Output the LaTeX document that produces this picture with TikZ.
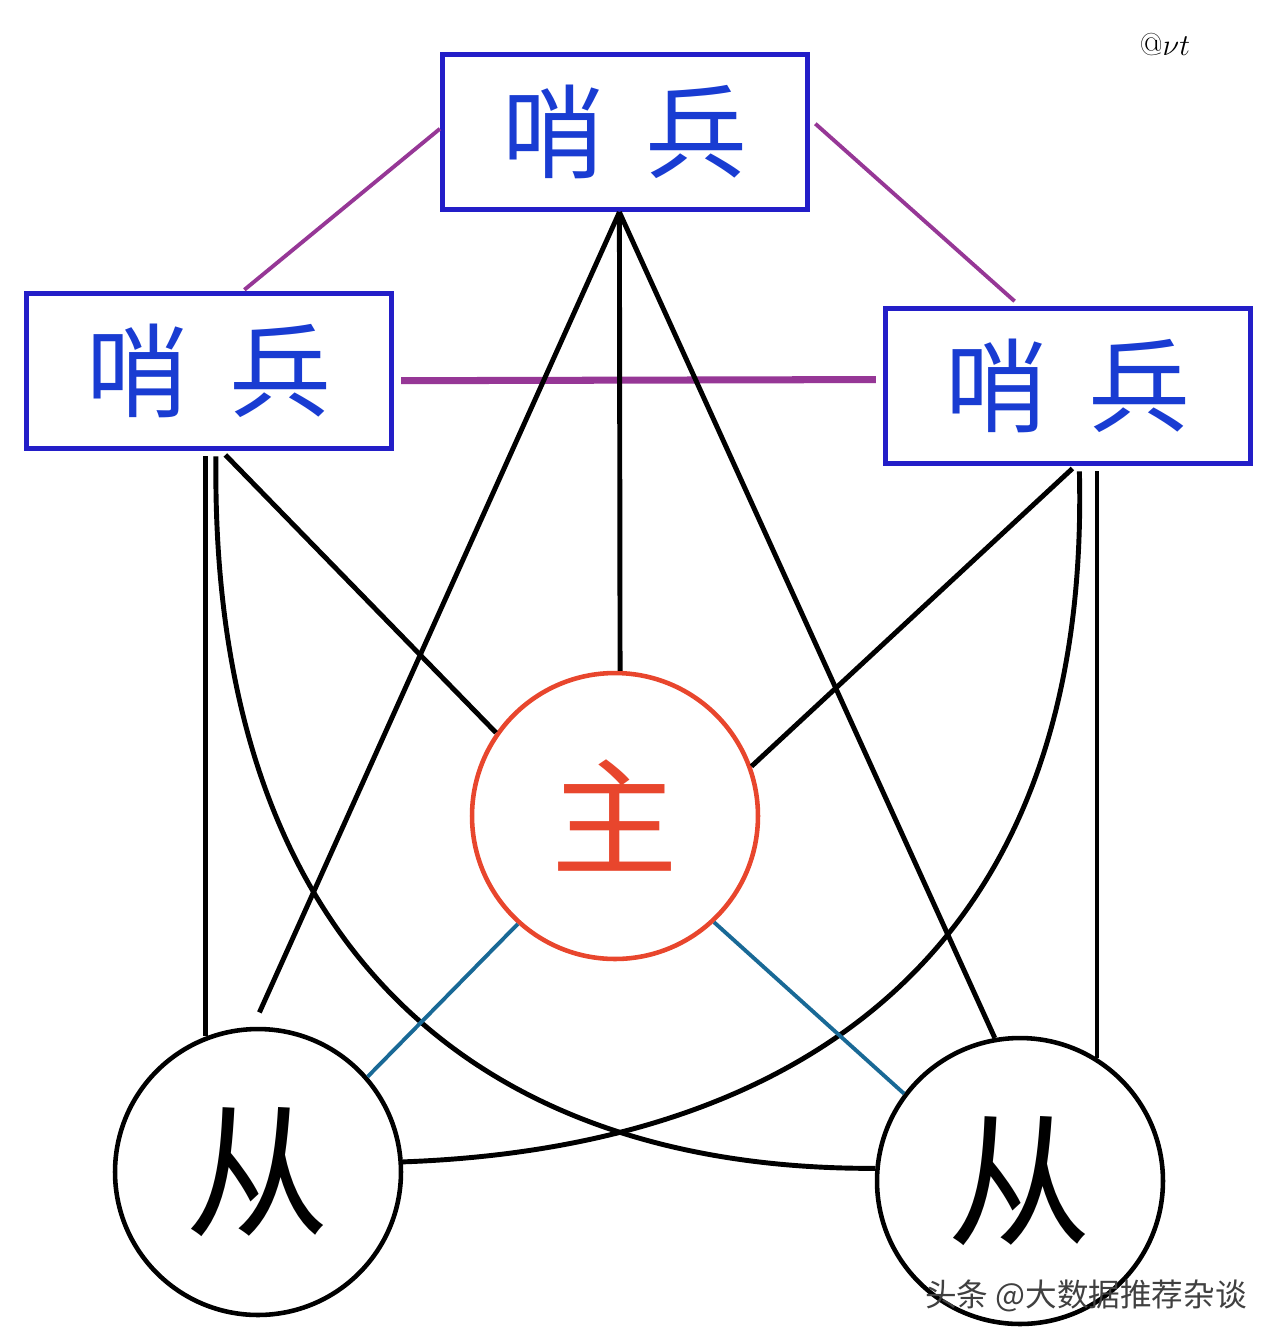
\documentclass[tikz,border=0pt]{standalone}
\usepackage{fontspec}
\newfontfamily\cjk{Noto Sans CJK SC}
\definecolor{boxblue}{RGB}{35,30,200}
\definecolor{charblue}{RGB}{25,60,210}
\definecolor{linkpurple}{RGB}{150,55,150}
\definecolor{mainred}{RGB}{232,70,45}
\definecolor{linkteal}{RGB}{25,105,150}
\begin{document}
\begin{tikzpicture}[x=0.02cm, y=-0.02cm,
    sentry/.style={draw=boxblue, line width=3pt, minimum width=7.3cm, minimum height=3.1cm,
      inner sep=0pt, text=charblue, font=\cjk\fontsize{58}{60}\selectfont},
    master/.style={draw=mainred, circle, line width=2.6pt, minimum size=5.72cm, inner sep=0pt,
      text=mainred, font=\cjk\fontsize{72}{72}\selectfont},
    slave/.style={draw=black, circle, line width=2.6pt, minimum size=5.72cm, inner sep=0pt,
      font=\cjk\fontsize{82}{82}\selectfont},
    wire/.style={draw=black, line width=2.8pt},
    gossip/.style={draw=linkpurple, line width=2.2pt},
    repl/.style={draw=linkteal, line width=2.2pt}]
        \fill[white] (0,0) rectangle (1280,1340);
        \useasboundingbox (0,0) rectangle (1280,1340);

        \node[sentry] (sTop) at (625,132) {\raisebox{-0.08em}{哨\hspace{0.4em}兵}};
        \node[sentry] (sLeft) at (209,371) {哨\hspace{0.4em}兵};
        \node[sentry] (sRight) at (1068,386) {哨\hspace{0.4em}兵};
        \node[master] (main) at (615,816) {\raisebox{-0.12em}{主}};
        \node[slave] (slaveL) at (258,1172) {从};
        \node[slave] (slaveR) at (1020,1181) {从};

        % sentinels talk to each other
        \path[gossip, shorten >=1pt] (sTop.179) edge (sLeft.67);
        \path[gossip, shorten <=4pt, shorten >=4pt] (sTop.4) edge (sRight.121);
        \path[gossip, line width=4pt, shorten <=4pt, shorten >=4pt] (sLeft.-3) edge (sRight.178);

        % sentinels watch master and slaves
        \coordinate (fan) at (sTop.-94);
        \path[wire] (fan) edge (main.88);
        \path[wire, shorten >=9pt] (fan) edge (slaveL.92);
        \path[wire] (fan) edge (slaveR.100);
        \path[wire, shorten <=3pt] (sLeft.-81) edge (main.145);
        \path[wire, shorten <=3pt] (slaveL.111 |- sLeft.south) edge (slaveL.111);
        \draw[wire, shorten <=3pt] (sLeft.-85) .. controls (210,950) and (480,1170) .. (slaveR.175);
        \path[wire, shorten <=2pt] (sRight.-85) edge (main.20);
        \path[wire, shorten <=3pt] (slaveR.58 |- sRight.south) edge (slaveR.58);
        \draw[wire, shorten <=3pt] (sRight.-82) .. controls (1092,1000) and (740,1150) .. (slaveL.4);

        % replication
        \path[repl] (main.228) edge (slaveL.41);
        \path[repl] (main.-47) edge (slaveR.143);

        \node[font=\fontsize{18}{18}\selectfont] (mark) at (1165,45) {@$\nu t$};
        \node[text=black!75, font=\cjk\fontsize{18}{18}\selectfont] (tag) at (1086,1296) {头条 @大数据推荐杂谈};
      \end{tikzpicture}
\end{document}
